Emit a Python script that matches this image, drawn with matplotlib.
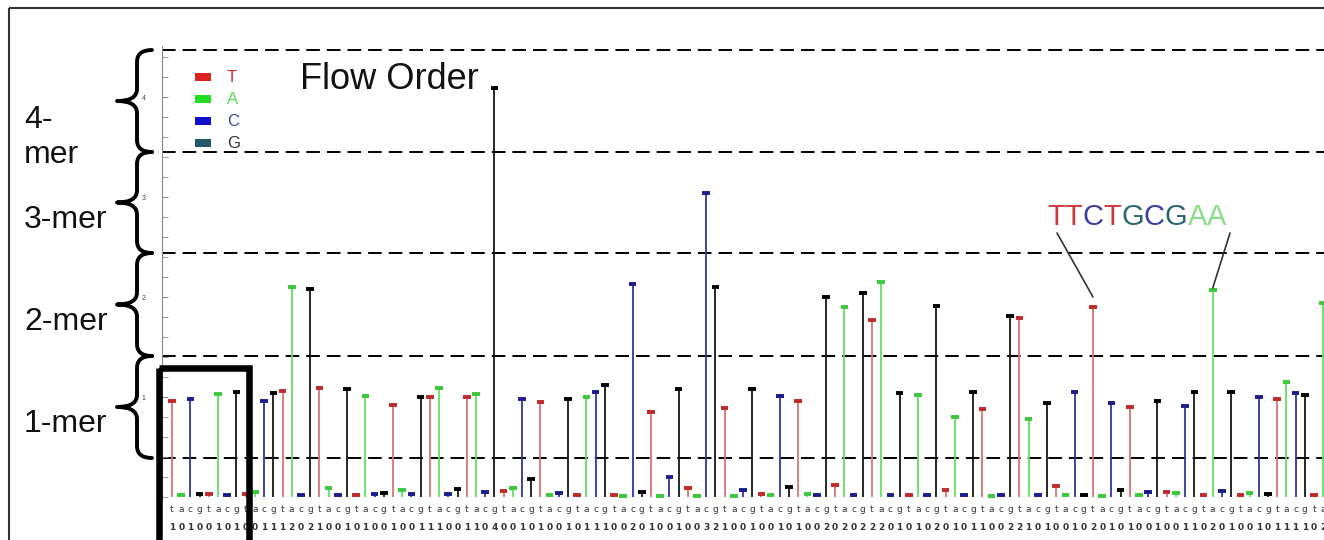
import numpy as np
import matplotlib
matplotlib.use('Agg')
import matplotlib.pyplot as plt
from matplotlib.path import Path
from matplotlib.patches import PathPatch, Rectangle

plt.rcParams['font.family'] = ['Liberation Sans', 'DejaVu Sans']

# nucleotide flow order, repeated for every flow
flow_order = "TACG"

# normalised light signal of each flow
signal = [
    0.96, 0.02, 0.98, 0.03, 0.03, 1.03, 0.02, 1.05, 0.03, 0.05,
    0.96, 1.04, 1.06, 2.10, 0.02, 2.08, 1.09, 0.09, 0.02, 1.08,
    0.02, 1.01, 0.03, 0.04, 0.92, 0.07, 0.03, 1.00, 1.00, 1.09,
    0.03, 0.08, 1.00, 1.03, 0.05, 4.09, 0.06, 0.09, 0.98, 0.18,
    0.95, 0.02, 0.04, 0.98, 0.02, 1.00, 1.05, 1.12, 0.02, 0.01,
    2.13, 0.05, 0.85, 0.01, 0.20, 1.08, 0.09, 0.01, 3.04, 2.10,
    0.89, 0.01, 0.07, 1.08, 0.03, 0.02, 1.01, 0.10, 0.96, 0.03,
    0.02, 2.00, 0.12, 1.90, 0.02, 2.04, 1.77, 2.15, 0.02, 1.04,
    0.02, 1.02, 0.02, 1.91, 0.07, 0.80, 0.02, 1.05, 0.88, 0.01,
    0.02, 1.81, 1.79, 0.78, 0.02, 0.94, 0.11, 0.02, 1.05, 0.02,
    1.90, 0.01, 0.94, 0.07, 0.90, 0.02, 0.05, 0.96, 0.05, 0.04,
    0.91, 1.05, 0.02, 2.07, 0.06, 1.05, 0.02, 0.04, 1.00, 0.03,
    0.98, 1.15, 1.04, 1.02, 0.02, 1.94,
]

# boundaries between homopolymer bands and their names (bottom to top)
mer_bounds = [0.39, 1.41, 2.44, 3.45, 4.47]
mer_labels = ["1-mer", "2-mer", "3-mer", "4-\nmer"]

read_text = "TTCTGCGAA"
read_flows = [100, 113]

stem_colors = {'T': '#d87474', 'A': '#62e062', 'C': '#34349c', 'G': '#161616'}
cap_colors = {'T': '#c02a2a', 'A': '#3cc83c', 'C': '#1c1c8c', 'G': '#000000'}
key_colors = {'T': '#dd2222', 'A': '#22dd22', 'C': '#1010cc', 'G': '#1f5a66'}
key_text = {'T': '#cc3333', 'A': '#55dd55', 'C': '#444499', 'G': '#333333'}
read_colors = {'T': '#c83a3a', 'C': '#3a3fa5', 'G': '#2c6470', 'A': '#86e086'}

W, H = 1324, 540
x_first, x_step = 172, 9.21   # pixel column of flow 0 and flow spacing
y_zero, y_unit = 497, 100     # pixel row of zero signal and pixels per unit

bases = [flow_order[i % 4] for i in range(len(signal))]
flows = np.arange(len(signal))
calls = [int(round(v)) for v in signal]

fig = plt.figure(figsize=(W / 100, H / 100), dpi=100)
fig.patch.set_facecolor('white')

left, right, top, bottom = 162, 1324, 46, 500
ax = fig.add_axes([left / W, (H - bottom) / H, (right - left) / W, (bottom - top) / H])
ax.set_xlim((left - x_first) / x_step, (right - x_first) / x_step)
ax.set_ylim((y_zero - bottom) / y_unit, (y_zero - top) / y_unit)

for b in mer_bounds:
    ax.axhline(b, color='black', lw=1.4, ls=(0, (7, 3.6)), zorder=1)

ax.vlines(flows, 0, signal, colors=[stem_colors[b] for b in bases], lw=1.3, zorder=2)
ax.scatter(flows, signal, marker='_', s=30, linewidths=2.8,
           c=[cap_colors[b] for b in bases], zorder=3)

for i, b in enumerate(bases):
    ax.text(i, -0.13, b.lower(), ha='center', va='center', fontsize=6.5,
            color='#333333', family='DejaVu Sans')
    ax.text(i, -0.31, str(calls[i]), ha='center', va='center', fontsize=6.5,
            color='#333333', family='DejaVu Sans', fontweight='bold')

for s in ['top', 'right', 'bottom']:
    ax.spines[s].set_visible(False)
ax.spines['left'].set_color('#8a8a8a')
ax.set_xticks([])
ax.set_yticks([1, 2, 3, 4])
ax.set_yticks(np.arange(0, 4.5, 0.2), minor=True)
ax.tick_params(axis='y', which='both', direction='in', length=4, color='#8a8a8a',
               labelsize=5, labelcolor='#444444', pad=12)

# pointer lines from the read label to its first and last base
ax.annotate('', xy=(read_flows[0], signal[read_flows[0]] + 0.1), xycoords='data',
            xytext=(1057, H - 233), textcoords='figure pixels',
            arrowprops=dict(arrowstyle='-', color='#333333', lw=1.2, shrinkA=0, shrinkB=0))
ax.annotate('', xy=(read_flows[1], signal[read_flows[1]] + 0.02), xycoords='data',
            xytext=(1230, H - 233), textcoords='figure pixels',
            arrowprops=dict(arrowstyle='-', color='#333333', lw=1.2, shrinkA=0, shrinkB=0))

# overlay in pixel units for the frame, braces and labels
ov = fig.add_axes([0, 0, 1, 1])
ov.set_xlim(0, W)
ov.set_ylim(H, 0)
ov.axis('off')


def to_px(v):
    return y_zero - y_unit * v


def brace(y_top, y_bot, x_end=152, x_spine=137, x_tip=117, r=12):
    y_mid = (y_top + y_bot) / 2
    verts = [(x_end, y_top), (x_spine, y_top), (x_spine, y_top + r),
             (x_spine, y_mid - r), (x_spine, y_mid), (x_tip, y_mid),
             (x_spine, y_mid), (x_spine, y_mid + r),
             (x_spine, y_bot - r), (x_spine, y_bot), (x_end, y_bot)]
    codes = [Path.MOVETO, Path.CURVE3, Path.CURVE3,
             Path.LINETO, Path.CURVE3, Path.CURVE3,
             Path.CURVE3, Path.CURVE3,
             Path.LINETO, Path.CURVE3, Path.CURVE3]
    ov.add_patch(PathPatch(Path(verts, codes), fill=False, lw=2.8, ec='black',
                           capstyle='round', joinstyle='round'))
    return y_mid


for k, name in enumerate(mer_labels):
    y_bot = to_px(mer_bounds[k])
    y_top = to_px(mer_bounds[k + 1])
    y_mid = brace(y_top, y_bot)
    if "\n" in name:
        first, second = name.split("\n")
        ov.text(24, y_mid + 27, first, fontsize=23, va='baseline', ha='left', color='#111111')
        ov.text(24, y_mid + 62, second, fontsize=23, va='baseline', ha='left', color='#111111')
    else:
        ov.text(24, y_mid + 25, name, fontsize=23, va='baseline', ha='left', color='#111111')

ov.text(300, 89, "Flow Order", fontsize=26, va='baseline', ha='left', color='#111111')

# colour key
for k, b in enumerate(flow_order):
    yc = 77 + 22 * k
    ov.add_patch(Rectangle((195, yc - 4), 16, 8, color=key_colors[b], lw=0))
    ov.text(227, yc + 1, b, fontsize=12, va='center', ha='left', color=key_text[b])

# read label, one coloured letter after another
prev = ov.text(1047, 225, read_text[0], fontsize=21, va='baseline', ha='left',
               color=read_colors[read_text[0]])
for ch in read_text[1:]:
    prev = ov.annotate(ch, xy=(1, 0), xycoords=prev, va='bottom', ha='left',
                       fontsize=21, color=read_colors[ch])

# highlight box around the first flows and the outer frame
ov.add_patch(Rectangle((158.5, 367.5), 90, 200, fill=False, lw=4.7, ec='black'))
ov.add_patch(Rectangle((9, 8), 1400, 600, fill=False, lw=1.5, ec='#333333'))

fig.savefig('out.png', dpi=100, facecolor='white')
